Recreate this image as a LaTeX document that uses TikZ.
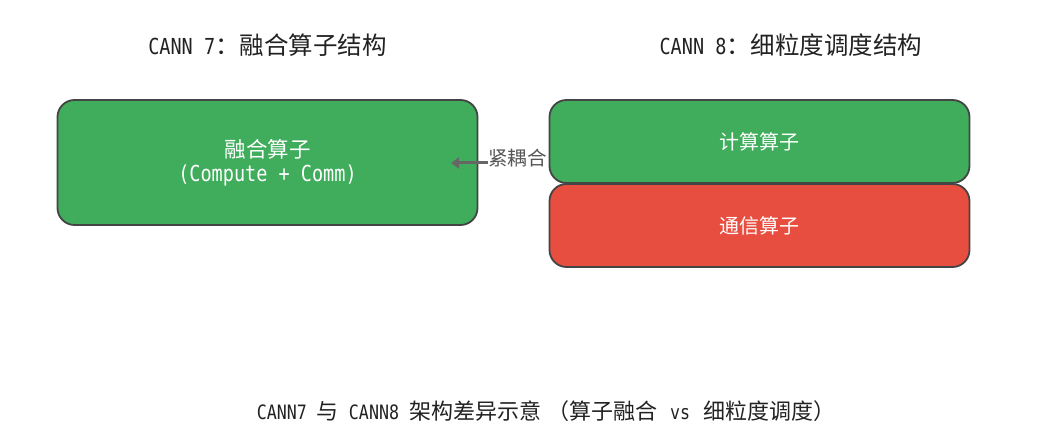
\documentclass[tikz,border=0pt]{standalone}
\usepackage{fontspec}
\setmainfont{Noto Sans CJK SC}
\newfontfamily\lat[Scale=0.9, FakeStretch=0.84]{DejaVu Sans Mono}
\usetikzlibrary{arrows.meta}
\definecolor{boxgreen}{HTML}{3FAD5C}
\definecolor{boxred}{HTML}{E84E40}
\definecolor{edge}{HTML}{444444}
\definecolor{txt}{HTML}{222222}
\definecolor{arr}{HTML}{666666}
\tikzset{
  opbox/.style={draw=edge, line width=1.8pt, rounded corners=17pt, text=white, align=center, inner sep=0pt},
  title/.style={text=txt, font=\fontsize{24.5}{28}\selectfont, inner sep=0pt},
  caption/.style={text=txt, font=\fontsize{22}{26}\selectfont, inner sep=0pt},
}
\begin{document}
\begin{tikzpicture}[x=1pt,y=-1pt]
\fill[white] (0,0) rectangle (1050,425);
\useasboundingbox (0,0) rectangle (1050,425);
\node[title] (t7) at (267.5,45) {{\lat CANN 7}：融合算子结构};
\node[title] (t8) at (791,45) {{\lat CANN 8}：细粒度调度结构};
\node[opbox, fill=boxgreen, minimum width=420pt, minimum height=125pt, font=\fontsize{21.5}{24}\selectfont] (fused) at (267.5,162.5)
  {融合算子\\{\lat\fontsize{24.5}{24}\selectfont (Compute + Comm)}};
\node[opbox, fill=boxgreen, minimum width=420pt, minimum height=83pt, font=\fontsize{20}{24}\selectfont] (comp) at (759.5,141.5) {计算算子};
\node[opbox, fill=boxred, minimum width=420pt, minimum height=83pt, font=\fontsize{20}{24}\selectfont] (comm) at (759.5,225.5) {通信算子};
\node[anchor=west, inner sep=0pt, text=arr!85!black, font=\fontsize{19.5}{22}\selectfont] (tight) at (488,158) {紧耦合};
\coordinate (tip) at (451,163);
\draw[arr, line width=3pt, -{Triangle[length=8pt,width=11pt]}] (tight.west |- 0,163) -- (tip);
\node[caption] (cap) at (546,411) {{\lat CANN7 }与{\lat{} CANN8 }架构差异示意\kern6pt（算子融合\kern3pt{\lat{} vs }\kern3pt 细粒度调度）};
\end{tikzpicture}
\end{document}
